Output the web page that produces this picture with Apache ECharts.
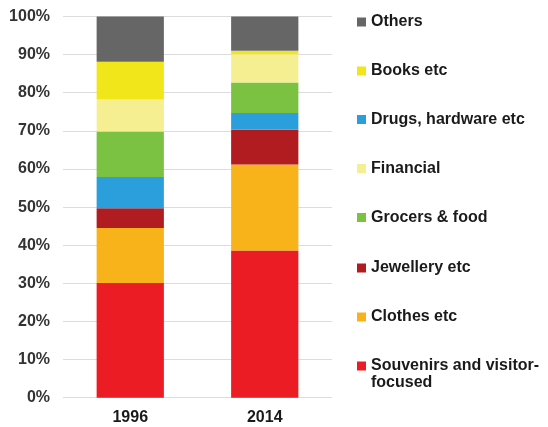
<!DOCTYPE html>
<html><head><meta charset="utf-8">
<script src="https://cdn.jsdelivr.net/npm/echarts@6/dist/echarts.min.js"></script>
<style>html,body{margin:0;padding:0;background:#fff}#c{width:548px;height:427px}</style>
</head><body><div id="c"></div>
<script>
const years = ['1996', '2014'];
const seriesNames = ['Souvenirs and visitor-focused', 'Clothes etc', 'Jewellery etc', 'Drugs, hardware etc', 'Grocers & food', 'Financial', 'Books etc', 'Others'];
const souvenirs = [30.1, 38.6];
const clothes = [14.4, 22.6];
const jewellery = [5.2, 9.1];
const drugs = [8.2, 4.4];
const grocers = [11.9, 8.0];
const financial = [8.4, 7.4];
const books = [9.9, 0.9];
const others = [11.9, 9.0];
const yTicks = [0, 10, 20, 30, 40, 50, 60, 70, 80, 90, 100];
const legendOrder = ['Others', 'Books etc', 'Drugs, hardware etc', 'Financial', 'Grocers & food', 'Jewellery etc', 'Clothes etc', 'Souvenirs and visitor-focused'];

const values = [souvenirs, clothes, jewellery, drugs, grocers, financial, books, others];
const colors = ['#ec1c24', '#f8b21a', '#b01c20', '#2a9fdc', '#7cc242', '#f6ef92', '#f0e619', '#666666'];
const font = '"Liberation Sans", Arial, sans-serif';

const series = seriesNames.map((n, i) => ({
  name: n, type: 'bar', stack: 's', barWidth: '50%',
  data: values[i], itemStyle: { color: colors[i] }
}));

const legendTops = [22, 71, 119.5, 168.5, 217.5, 268, 317, 366];
const richStyle = {
  a: { fontFamily: font, fontWeight: 'bold', fontSize: 16, color: '#1a1a1a', lineHeight: 17 },
  p: { fontFamily: font, fontSize: 16, lineHeight: 17 }
};
const legends = legendOrder.map((n, i) => {
  const multi = n.startsWith('Souvenirs');
  return {
    data: [n], left: 357, top: multi ? legendTops[i] - 25.5 : legendTops[i] - 8.5,
    orient: 'vertical', itemWidth: 9, itemHeight: 9, itemGap: 0, padding: 0,
    icon: 'rect', selectedMode: false,
    formatter: multi ? '{p| }\n{a|Souvenirs and visitor-}\n{a|focused}' : '{a|' + n + '}',
    textStyle: { fontFamily: font, fontWeight: 'bold', fontSize: 16, color: '#1a1a1a', lineHeight: 17, rich: richStyle }
  };
});

const chart = echarts.init(document.getElementById('c'), null, { renderer: 'canvas' });
chart.setOption({
  animation: false,
  backgroundColor: '#ffffff',
  grid: { left: 63, right: 216, top: 16.5, bottom: 29.3 },
  legend: legends,
  xAxis: {
    type: 'category', data: years,
    axisLine: { show: false }, axisTick: { show: false },
    axisLabel: { fontFamily: font, fontWeight: 'bold', fontSize: 16, color: '#1a1a1a', margin: 12 }
  },
  yAxis: {
    type: 'value', min: 0, max: 100, interval: 10,
    axisLine: { show: false }, axisTick: { show: false },
    splitLine: { lineStyle: { color: '#dcdcdc', width: 1 } },
    axisLabel: { fontFamily: font, fontWeight: 'bold', fontSize: 16, color: '#333333', margin: 13,
      formatter: v => yTicks.includes(v) ? v + '%' : '' }
  },
  series: series
});
</script></body></html>
